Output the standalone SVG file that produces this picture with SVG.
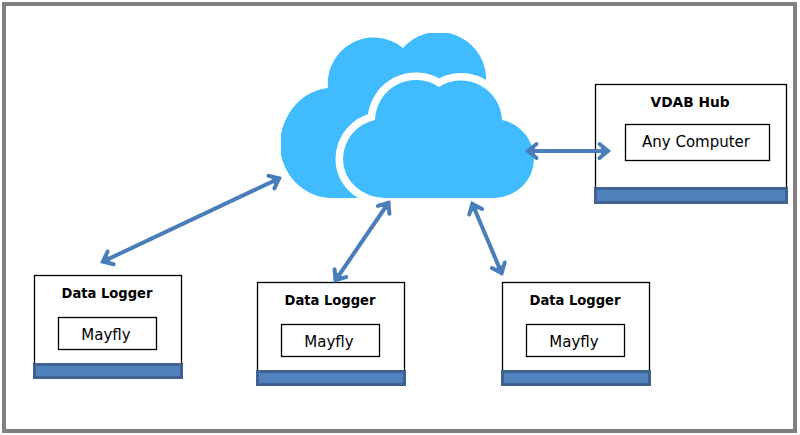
<svg xmlns="http://www.w3.org/2000/svg" width="800" height="435" viewBox="0 0 800 435">
<style>
text{font-family:"DejaVu Sans","Liberation Sans",sans-serif;text-anchor:middle;fill:#000}
.t{font-size:14px;font-weight:bold}
.l{font-size:15px}
.b{fill:#fff;stroke:#000;stroke-width:1.3}
.bar{fill:#4f81bd;stroke:#3f6290;stroke-width:3}
.a{fill:none;stroke:#4a7ebb;stroke-width:4;marker-start:url(#h);marker-end:url(#h)}
.c{fill:#40bcfe}
</style>
<defs>
<marker id="h" markerUnits="userSpaceOnUse" markerWidth="24" markerHeight="24" refX="19" refY="12" orient="auto-start-reverse">
<path d="M9.5 5L18 12L9.5 19" fill="none" stroke="#4a7ebb" stroke-width="4" stroke-linecap="round"/>
<path d="M11 8.5L20 12L11 15.5Z" fill="#4a7ebb"/>
</marker>
<clipPath id="cl"><rect x="281" y="33" width="260" height="170"/></clipPath>
</defs>
<rect width="800" height="435" fill="#fff"/>
<rect x="4" y="4" width="791" height="427" fill="none" stroke="#7f7f7f" stroke-width="4"/>
<g id="cloud">
<path class="c" clip-path="url(#cl)" d="M328 88A46 46 0 0 1 403 48A47.5 47.5 0 0 1 486 76L486 130L400 198L332 198A52 54 0 0 1 280 145A53 58 0 0 1 328 88Z"/>
<path class="c" stroke="#fff" stroke-width="15" stroke-linejoin="round" paint-order="stroke" d="M375 120A41 41 0 0 1 439 87A41 41 0 0 1 502 120A40 40 0 0 1 534 159A41 39 0 0 1 495 198L385 198A42 39 0 0 1 343 159A40 40 0 0 1 375 120Z"/>
</g>
<g id="hub">
<rect class="b" x="595.5" y="84.5" width="191" height="105"/>
<rect class="bar" x="595.5" y="188.5" width="191" height="14"/>
<text class="t" x="690" y="107" textLength="79" lengthAdjust="spacingAndGlyphs">VDAB Hub</text>
<rect class="b" x="625.5" y="124.5" width="144" height="36"/>
<text class="l" x="696" y="147">Any Computer</text>
</g>
<g id="logger1">
<rect class="b" x="34.5" y="275.5" width="147" height="90"/>
<rect class="bar" x="34.5" y="364.5" width="147" height="13"/>
<text class="t" x="107" y="298" textLength="91" lengthAdjust="spacingAndGlyphs">Data Logger</text>
<rect class="b" x="58.5" y="317.5" width="98" height="32"/>
<text class="l" x="106" y="340">Mayfly</text>
</g>
<g id="logger2">
<rect class="b" x="257.5" y="282.5" width="147" height="90"/>
<rect class="bar" x="257.5" y="371.5" width="147" height="13"/>
<text class="t" x="330" y="305" textLength="91" lengthAdjust="spacingAndGlyphs">Data Logger</text>
<rect class="b" x="281.5" y="324.5" width="98" height="32"/>
<text class="l" x="329" y="347">Mayfly</text>
</g>
<g id="logger3">
<rect class="b" x="502.5" y="282.5" width="147" height="90"/>
<rect class="bar" x="502.5" y="371.5" width="147" height="13"/>
<text class="t" x="575" y="305" textLength="91" lengthAdjust="spacingAndGlyphs">Data Logger</text>
<rect class="b" x="526.5" y="324.5" width="98" height="32"/>
<text class="l" x="574" y="347">Mayfly</text>
</g>
<g id="connectors">
<line class="a" x1="102" y1="262" x2="280" y2="178"/>
<line class="a" x1="335" y1="281" x2="389" y2="202"/>
<line class="a" x1="472" y1="203" x2="502" y2="274"/>
<line class="a" x1="527" y1="151" x2="609" y2="151"/>
</g>
</svg>
